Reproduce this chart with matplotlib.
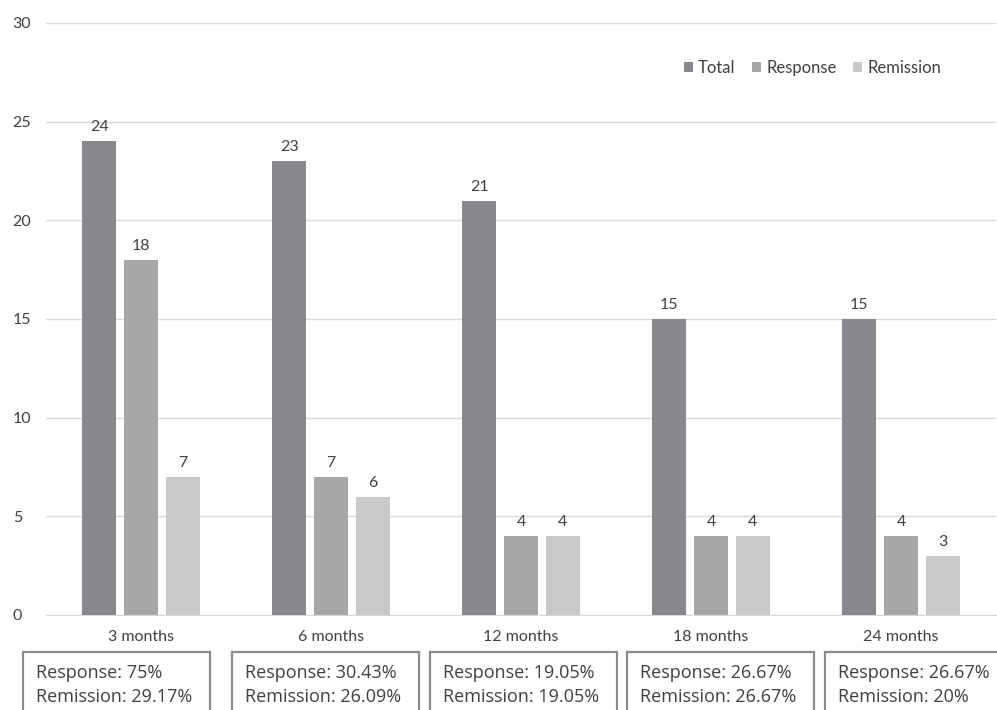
import matplotlib
matplotlib.use("Agg")
import numpy as np
import matplotlib.pyplot as plt
from matplotlib.patches import Rectangle

# data
categories = ["3 months", "6 months", "12 months", "18 months", "24 months"]
total = [24, 23, 21, 15, 15]
response = [18, 7, 4, 4, 4]
remission = [7, 6, 4, 4, 3]
response_pct = ["75%", "30.43%", "19.05%", "26.67%", "26.67%"]
remission_pct = ["29.17%", "26.09%", "19.05%", "26.67%", "20%"]

W, H = 997, 710
plt.rcParams['font.family'] = ['Lato', 'DejaVu Sans']
txt = '#404040'

fig = plt.figure(figsize=(W / 100, H / 100), dpi=100)
ax = fig.add_axes([46 / W, 1 - 615 / H, 950 / W, 592 / H])

x = np.arange(len(categories))
bw = 0.178
off = 0.22
series = [(total, 'Total', '#88888c'), (response, 'Response', '#a7a7a9'),
          (remission, 'Remission', '#c9c9c9')]
for i, (vals, name, col) in enumerate(series):
    bars = ax.bar(x + (i - 1) * off, vals, bw, color=col, label=name, zorder=3)
    ax.bar_label(bars, padding=5, fontsize=11.5, color=txt)

ax.set_xlim(-0.5, len(categories) - 0.5)
ax.set_ylim(0, 30)
ax.set_yticks(range(0, 31, 5))
ax.set_xticks(x)
ax.set_xticklabels(categories)
ax.tick_params(axis='both', length=0, labelsize=11.5, colors=txt)
ax.tick_params(axis='x', pad=10.5)
ax.tick_params(axis='y', pad=24)
for lab in ax.get_yticklabels():
    lab.set_horizontalalignment('left')
ax.grid(axis='y', color='#d9d9d9', linewidth=1, zorder=0)
for s in ['top', 'right', 'left']:
    ax.spines[s].set_visible(False)
ax.spines['bottom'].set_color('#d9d9d9')

ax.legend(loc='center right', bbox_to_anchor=(0.951, 0.9235), ncol=3, frameon=False,
          fontsize=12, handlelength=0.55, handleheight=0.55, handletextpad=0.3,
          columnspacing=1.0, labelcolor=txt, borderpad=0)

# percentage boxes under the axis
box_left = [23, 232, 430, 627, 825]
box_w = 187
for i, bl in enumerate(box_left):
    fig.patches.append(Rectangle((bl / W, -0.05), box_w / W, (H - 652) / H + 0.05,
                                 transform=fig.transFigure, fill=False,
                                 edgecolor='#8c8c8c', linewidth=1.6))
    fig.text((bl + 13) / W, 1 - 673 / H, "Response: " + response_pct[i],
             fontsize=13, color=txt, va='center', family=['Open Sans', 'DejaVu Sans'])
    fig.text((bl + 13) / W, 1 - 697 / H, "Remission: " + remission_pct[i],
             fontsize=13, color=txt, va='center', family=['Open Sans', 'DejaVu Sans'])

fig.savefig('out.png', dpi=100, facecolor='white')
